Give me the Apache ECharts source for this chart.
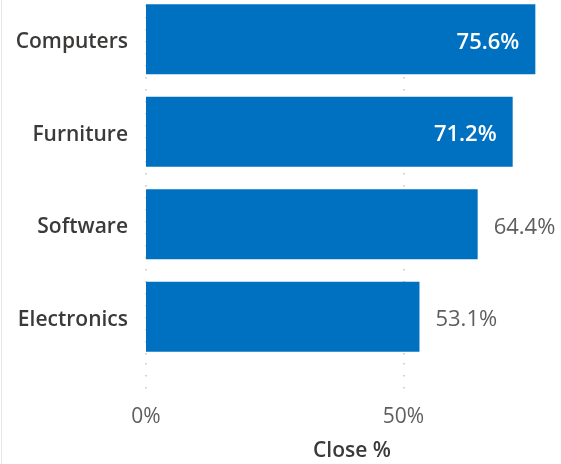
<!DOCTYPE html>
<html>
<head>
<meta charset="utf-8">
<script src="https://cdn.jsdelivr.net/npm/echarts@6/dist/echarts.min.js"></script>
<style>
html,body{margin:0;padding:0;background:#fff;}
#chart{width:561px;height:464px;}
</style>
</head>
<body>
<div id="chart"></div>
<script>
const categories = ['Computers', 'Furniture', 'Software', 'Electronics'];
const closePct = [75.6, 71.2, 64.4, 53.1];
const axisName = 'Close %';

const FONT = '"Open Sans", "Noto Sans", sans-serif';
const chart = echarts.init(document.getElementById('chart'));

const barData = closePct.map(v => ({
  value: v,
  label: v > 70
    ? { position: 'insideRight', color: '#ffffff', fontWeight: 600, distance: 16 }
    : { position: 'right', color: '#605e5c', fontWeight: 400, distance: 16 }
}));

const dotted = { color: '#c8c6c4', width: 1.5, type: [1.5, 10.5] };

chart.setOption({
  animation: false,
  backgroundColor: '#ffffff',
  grid: [
    { left: 146, right: 3, top: -7, height: 370, outerBoundsMode: 'none', containLabel: false },
    { left: 146, right: 3, top: 363, height: 29, outerBoundsMode: 'none', containLabel: false }
  ],
  xAxis: [
    {
      gridIndex: 0, type: 'value', min: 0, max: 80, interval: 50,
      axisLine: { show: false }, axisTick: { show: false }, axisLabel: { show: false },
      splitLine: { show: true, showMaxLine: false, lineStyle: dotted }
    },
    {
      gridIndex: 1, type: 'value', min: 0, max: 80, interval: 50,
      axisLine: { show: false }, axisTick: { show: false },
      splitLine: { show: true, showMaxLine: false, lineStyle: dotted },
      axisLabel: {
        formatter: v => v + '%', color: '#605e5c', fontSize: 21, fontFamily: FONT, margin: 15,
        showMaxLabel: false
      },
      name: axisName, nameLocation: 'middle', nameGap: 49,
      nameTextStyle: { color: '#3b3a39', fontSize: 21, fontWeight: 600, fontFamily: FONT }
    }
  ],
  yAxis: [
    {
      gridIndex: 0, type: 'category', data: categories, inverse: true,
      axisLine: { show: false }, axisTick: { show: false },
      axisLabel: {
        margin: 18,
        formatter: v => '{c|' + v + '}',
        rich: {
          c: { color: '#3b3a39', fontSize: 21, fontWeight: 600, fontFamily: FONT, padding: [6, 0, 0, 0] }
        }
      }
    },
    {
      gridIndex: 1, type: 'value', show: false
    }
  ],
  graphic: [
    { type: 'line', shape: { x1: 1.5, y1: 0, x2: 1.5, y2: 464 }, style: { stroke: '#e6e6e6', lineWidth: 1 } }
  ],
  series: [
    {
      type: 'bar', xAxisIndex: 0, yAxisIndex: 0,
      data: barData, barWidth: 70,
      itemStyle: { color: '#0070c0' },
      label: {
        show: true, formatter: p => p.value.toFixed(1) + '%',
        fontSize: 22, fontFamily: FONT, offset: [0, 3]
      }
    }
  ]
});
</script>
</body>
</html>
